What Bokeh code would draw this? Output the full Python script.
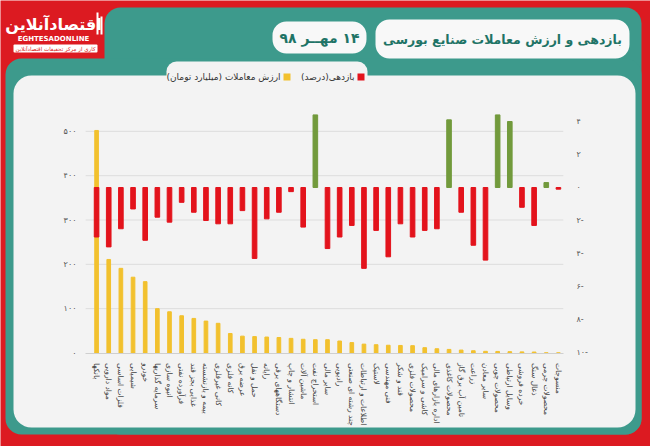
import math
from bokeh.plotting import figure
from bokeh.models import (Range1d, LinearAxis, FixedTicker,
                          BoxAnnotation, Label, ColumnDataSource)
from bokeh.embed import file_html
from bokeh.resources import INLINE

# ---------------- data ----------------
industries = [
    "بانکها", "مواد دارویی", "فلزات اساسی", "شیمیایی", "خودرو",
    "سرمایه گذاریها", "انبوه سازی", "فرآورده نفتی", "غذایی بجز قند", "بیمه و بازنشسته",
    "کانی غیرفلزی", "کانه فلزی", "عرضه برق", "حمل و نقل", "رایانه",
    "دستگاههای برقی", "انتشار و چاپ", "ماشین آلات", "استخراج نفت", "سایر مالی",
    "رادیویی", "چند رشته ای صنعتی", "اطلاعات و ارتباطات", "لاستیک", "فنی مهندسی",
    "قند و شکر", "محصولات فلزی", "کاشی و سرامیک", "اداره بازارهای مالی", "محصولات کاغذی",
    "تامین آب برق گاز", "زراعت", "سایر معادن", "محصولات چوبی", "وسایل ارتباطی",
    "خرده فروشی", "ذغال سنگ", "محصولات چرمی", "منسوجات",
]
# trade value (billion toman) - left axis
trade_value = [502, 211, 191, 171, 161, 100, 93, 84, 78, 72,
               67, 44, 38, 37, 36, 35, 33, 31, 30, 30,
               27, 23.5, 20, 18.7, 17.5, 17, 16.5, 12, 9.6, 8.1,
               6.6, 5.1, 3.8, 3.5, 3.0, 2.5, 2.2, 0.3, 0.2]
# return (percent) - right axis
returns = [-3.0, -3.6, -2.5, -1.3, -3.2, -1.8, -2.1, -0.9, -1.5, -2.0,
           -2.2, -2.2, -1.4, -4.3, -1.9, -1.5, -0.25, -2.4, 4.4, -3.7,
           -3.0, -2.3, -4.9, -2.6, -4.2, -2.2, -3.0, -2.6, -2.5, 4.1,
           -1.5, -3.5, -4.4, 4.4, 4.0, -1.2, -2.3, 0.3, -0.1]

left_ticks = [0, 100, 200, 300, 400, 500]
left_tick_labels = ["۰", "۱۰۰", "۲۰۰", "۳۰۰", "۴۰۰", "۵۰۰"]
grid_values = [100, 200, 300, 400, 500]
right_ticks = [4, 2, 0, -2, -4, -6, -8, -10]
right_tick_labels = ["۴", "۲", "۰", "۲-", "۴-", "۶-", "۸-", "۱۰-"]

title_text = "بازدهی و ارزش معاملات صنایع بورسی"
date_text = "\u200f۱۴ مهــر ۹۸\u200f"
legend_ret = "بازدهی(درصد)\u200f"
legend_val = "ارزش معاملات (میلیارد تومان)\u200f"

# ---------------- style ----------------
RED_BG = "#dc1a21"
TEAL = "#3d9a8c"
PANEL = "#f3f3f3"
YELLOW = "#f2c12e"
BAR_RED = "#e3131c"
BAR_GREEN = "#729a3c"
TITLE_COL = "#1f7466"
FONT = "DejaVu Sans"

W, H = 650, 446
FL, FR = 90, 564          # chart plotting area, page pixels
Y0_VAL, K_VAL = 352.5, 0.4433   # zero line and px/unit of the value axis
Y0_RET, K_RET = 187.0, 16.5     # zero line and px/unit of the return axis

n = len(industries)
positions = list(range(n))
step = (FR - FL) / n

# frame = whole page; main ranges are page pixels (y downwards)
p = figure(width=W, height=H,
           x_range=Range1d(0, W), y_range=Range1d(H, 0),
           x_axis_location=None, y_axis_location=None,
           output_backend="svg", toolbar_location=None, min_border=0,
           background_fill_color=RED_BG, border_fill_color=RED_BG,
           outline_line_color=None)
p.grid.visible = False

p.extra_x_ranges = {"cat": Range1d(-FL / step - 0.5, (W - FL) / step - 0.5)}
p.extra_y_ranges = {
    "val": Range1d(-(H - Y0_VAL) / K_VAL, Y0_VAL / K_VAL),
    "ret": Range1d(-(H - Y0_RET) / K_RET, Y0_RET / K_RET),
}

# ---------------- decorations (page pixel coords) ----------------
def box(x0, y0, x1, y1, color, r=0, level="image"):
    p.add_layout(BoxAnnotation(left=x0, right=x1, top=y0, bottom=y1,
                               fill_color=color, fill_alpha=1.0,
                               line_color=None, level=level,
                               border_radius=r))

def label(x, y, text, size, color, bold=False, align="center"):
    p.add_layout(Label(x=x, y=y, text=text, text_font=FONT,
                       text_font_size=f"{size}px", text_color=color,
                       text_font_style="bold" if bold else "normal",
                       text_align=align, text_baseline="middle"))

box(104, 7, 641, 434, TEAL, 16)
box(5, 58, 641, 434, TEAL, 16)
box(13, 75, 635, 427, PANEL, 18)
box(166, 61, 367, 90, PANEL, 10)
box(375, 19, 629, 58, "#f8f8f8", 14)
box(272, 21, 366, 53, "#f8f8f8", 14)

# logo
label(53, 24, "اقتصادآنلاین", 16, "white", bold=True)
label(53, 38, "EGHTESADONLINE", 7, "white", bold=True)
box(96, 12, 98, 34, "white", 0, level="annotation")
box(100, 16, 102, 34, "white", 0, level="annotation")
box(13, 44, 97, 52, "white", 1, level="annotation")
label(55, 48, "کاری از مرکز تحقیقات اقتصادآنلاین", 5.5, RED_BG)

# titles
label(502, 39, title_text, 12.5, TITLE_COL, bold=True)
label(319, 37.5, date_text, 14, TITLE_COL, bold=True)

# legend
box(357, 73, 364, 80, BAR_RED, 0, level="annotation")
label(354, 76.5, legend_ret, 9, "#333333", align="right")
box(283, 73, 290, 80, YELLOW, 0, level="annotation")
label(280, 76.5, legend_val, 9, "#333333", align="right")

# ---------------- grid lines ----------------
p.segment(x0=[-0.9] * len(grid_values), x1=[n - 0.6] * len(grid_values),
          y0=grid_values, y1=grid_values, line_color="#dddddd", line_width=1,
          x_range_name="cat", y_range_name="val")

# ---------------- bars ----------------
src = ColumnDataSource(dict(
    pos=positions, industry=industries, value=trade_value, ret=returns,
    color=[BAR_GREEN if r > 0 else BAR_RED for r in returns]))

p.vbar(x="pos", top="value", bottom=0, width=0.3, color=YELLOW,
       source=src, x_range_name="cat", y_range_name="val")
p.vbar(x="pos", top="ret", bottom=0, width=0.38, color="color",
       source=src, x_range_name="cat", y_range_name="ret")

# ---------------- axes (fixed inside the page) ----------------
def style_axis(ax, color="#555555", size="8px"):
    ax.major_tick_line_color = None
    ax.minor_tick_line_color = None
    ax.major_label_text_font_size = size
    ax.major_label_text_color = color
    ax.major_label_text_font = FONT

la = LinearAxis(y_range_name="val", fixed_location=FL - 2,
                ticker=FixedTicker(ticks=left_ticks),
                major_label_overrides=dict(zip(left_ticks, left_tick_labels)))
style_axis(la)
la.axis_line_color = None
la.major_label_standoff = 6
p.add_layout(la, "left")

ra = LinearAxis(y_range_name="ret", fixed_location=FR + 2,
                ticker=FixedTicker(ticks=right_ticks),
                major_label_overrides=dict(zip(right_ticks, right_tick_labels)))
style_axis(ra)
ra.axis_line_color = None
ra.major_label_standoff = 4
p.add_layout(ra, "right")

ba = LinearAxis(x_range_name="cat", fixed_location=Y0_VAL,
                ticker=FixedTicker(ticks=positions), bounds=(-0.9, n - 0.6),
                major_label_overrides=dict(zip(positions, industries)))
style_axis(ba, "#444444", "7.5px")
ba.major_label_orientation = -math.pi / 2
ba.axis_line_color = "#cfcfcf"
ba.major_label_standoff = 4
p.add_layout(ba, "below")

open("out.html", "w").write(file_html(p, INLINE))
